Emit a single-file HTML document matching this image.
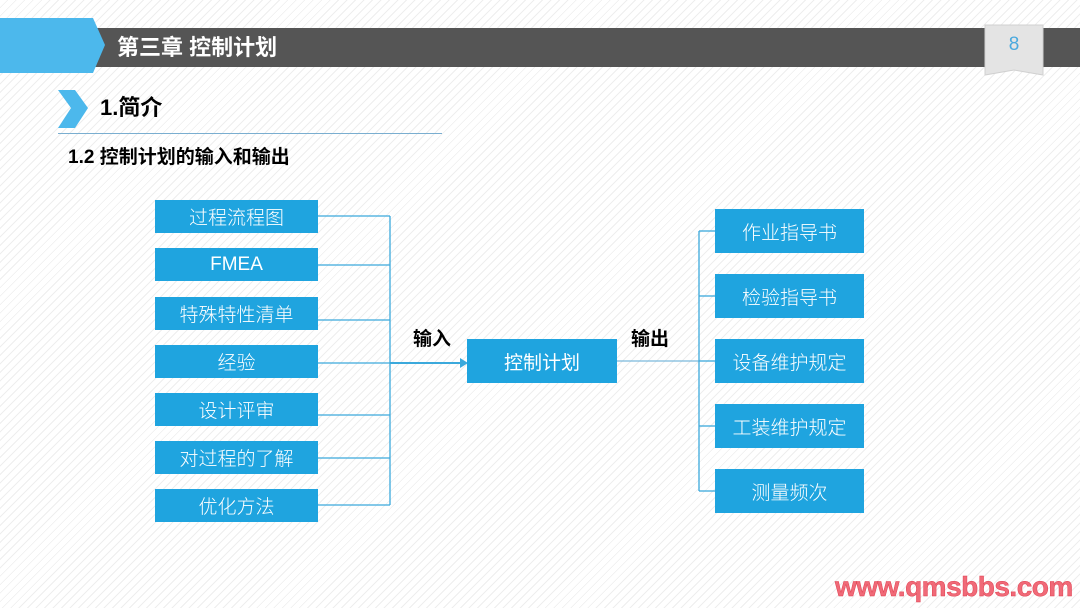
<!DOCTYPE html>
<html><head><meta charset="utf-8"><style>
*{margin:0;padding:0;box-sizing:border-box}
body{width:1080px;height:608px;position:relative;overflow:hidden;font-family:"Liberation Sans","Noto Sans CJK SC",sans-serif;
background:repeating-linear-gradient(135deg,#fff 0 5px,#eeeeee 5px 6px);}
.a{position:absolute}
.box{position:absolute;background:#1fa4df;color:#fff;display:flex;align-items:center;justify-content:center;font-size:19px;font-weight:300}
</style></head><body>
<div class="a" style="left:95px;top:28px;width:985px;height:39px;background:#555"></div>
<svg class="a" style="left:0;top:0" width="120" height="80"><polygon points="0,18 93,18 105,45 93,73 0,73" fill="#4cb8ec"/></svg>
<div class="a" style="left:117px;top:33px;color:#fff;font-size:22px;font-weight:bold;line-height:30px">第三章 控制计划</div>
<svg class="a" style="left:980px;top:20px" width="70" height="62"><polygon points="5,5 63,5 63,55 34,50 5,55" fill="#e4e4e4" stroke="#d0d0d0"/></svg>
<div class="a" style="left:985px;top:34px;width:58px;text-align:center;color:#4aa9de;font-size:19px">8</div>
<svg class="a" style="left:55px;top:88px" width="40" height="44"><polygon points="3,2 20,2 33,20 20,40 3,40 16,20" fill="#4cb8ec"/></svg>
<div class="a" style="left:100px;top:93px;font-size:22px;font-weight:bold;line-height:30px">1.简介</div>
<div class="a" style="left:58px;top:133px;width:384px;height:1px;background:#7aaed0"></div>
<div class="a" style="left:68px;top:145px;font-size:19px;font-weight:bold;line-height:26px">1.2 控制计划的输入和输出</div>

<svg class="a" style="left:0;top:0" width="1080" height="608">
<g stroke="#3ba9dc" stroke-width="1.3" fill="none">
<line x1="318" y1="216" x2="390" y2="216"/><line x1="318" y1="265" x2="390" y2="265"/>
<line x1="318" y1="320" x2="390" y2="320"/><line x1="318" y1="363" x2="390" y2="363"/>
<line x1="318" y1="415" x2="390" y2="415"/><line x1="318" y1="458" x2="390" y2="458"/>
<line x1="318" y1="505" x2="390" y2="505"/><line x1="390" y1="216" x2="390" y2="505"/>
<line x1="390" y1="363" x2="462" y2="363" stroke-width="2"/>
<line x1="617" y1="361" x2="699" y2="361" stroke="#7ab9dc"/>
<line x1="699" y1="231" x2="699" y2="491"/>
<line x1="699" y1="231" x2="715" y2="231"/><line x1="699" y1="296" x2="715" y2="296"/>
<line x1="699" y1="361" x2="715" y2="361"/><line x1="699" y1="426" x2="715" y2="426"/>
<line x1="699" y1="491" x2="715" y2="491"/>
</g>
<polygon points="460,358 468,363 460,368" fill="#3ba9dc"/>
</svg>

<div class="box" style="left:155px;top:200px;width:163px;height:33px">过程流程图</div>
<div class="box" style="left:155px;top:248px;width:163px;height:33px;font-weight:normal">FMEA</div>
<div class="box" style="left:155px;top:297px;width:163px;height:33px">特殊特性清单</div>
<div class="box" style="left:155px;top:345px;width:163px;height:33px">经验</div>
<div class="box" style="left:155px;top:393px;width:163px;height:33px">设计评审</div>
<div class="box" style="left:155px;top:441px;width:163px;height:33px">对过程的了解</div>
<div class="box" style="left:155px;top:489px;width:163px;height:33px">优化方法</div>

<div class="a" style="left:413px;top:324px;font-size:19px;font-weight:bold">输入</div>
<div class="a" style="left:631px;top:324px;font-size:19px;font-weight:bold">输出</div>
<div class="box" style="left:467px;top:339px;width:150px;height:44px;font-weight:normal">控制计划</div>

<div class="box" style="left:715px;top:209px;width:149px;height:44px">作业指导书</div>
<div class="box" style="left:715px;top:274px;width:149px;height:44px">检验指导书</div>
<div class="box" style="left:715px;top:339px;width:149px;height:44px">设备维护规定</div>
<div class="box" style="left:715px;top:404px;width:149px;height:44px">工装维护规定</div>
<div class="box" style="left:715px;top:469px;width:149px;height:44px">测量频次</div>

<div class="a" style="left:835px;top:571px;font-size:28px;color:#f06a78;font-weight:bold;letter-spacing:-0.5px;line-height:32px;-webkit-text-stroke:0.5px #e04050">www.qmsbbs.com</div>
</body></html>
